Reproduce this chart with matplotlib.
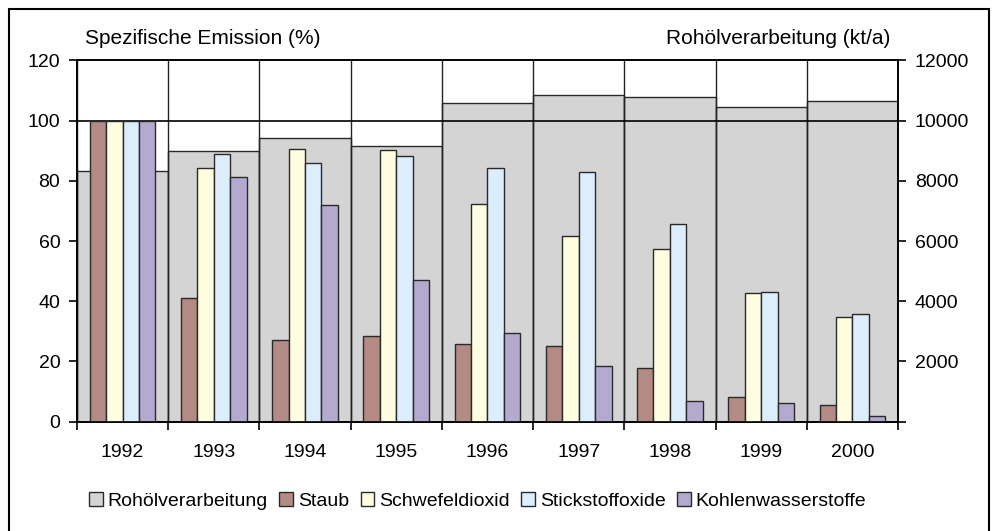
import numpy as np
import matplotlib.pyplot as plt
from matplotlib.patches import Rectangle

plt.rcParams['font.family'] = ['Liberation Sans', 'DejaVu Sans']

years = ['1992', '1993', '1994', '1995', '1996', '1997', '1998', '1999', '2000']
roh = [8340, 8980, 9420, 9160, 10580, 10860, 10790, 10450, 10640]
staub = [100, 41.1, 27.3, 28.6, 25.8, 25.0, 17.7, 8.1, 5.5]
so2 = [100, 84.3, 90.4, 90.3, 72.4, 61.7, 57.4, 42.7, 34.7]
nox = [100, 89.0, 86.0, 88.1, 84.1, 83.0, 65.7, 43.1, 35.8]
kw = [100, 81.4, 72.1, 46.9, 29.4, 18.6, 7.0, 6.2, 1.9]

names = ['Staub', 'Schwefeldioxid', 'Stickstoffoxide', 'Kohlenwasserstoffe']
colors = ['#B38A84', '#FFFDE0', '#DCEEFC', '#B4A9CE']
gray = '#D4D4D4'

fig = plt.figure(figsize=(9.93, 5.31), dpi=100)
ax = fig.add_axes([0.0775, 0.2058, 0.8268, 0.6806])
ax2 = ax.twinx()
ax.set_zorder(ax2.get_zorder() + 1)
ax.patch.set_visible(False)

x = np.arange(len(years))
ax2.bar(x, roh, width=1.0, color=gray, edgecolor='#2a2a2a', linewidth=1.0,
        label='Rohölverarbeitung')
ax2.set_ylim(0, 12000)
ax2.set_yticks(np.arange(0, 12001, 2000))
ax2.set_yticklabels(['', '2000', '4000', '6000', '8000', '10000', '12000'])

# grid: category boundaries and line at 100
for b in np.arange(-0.5, len(years), 1.0):
    ax.axvline(b, color='#222222', lw=1.0, zorder=1)
ax.axhline(100, color='black', lw=1.2, zorder=1)

w = 0.18
data = [staub, so2, nox, kw]
for i, (vals, c, n) in enumerate(zip(data, colors, names)):
    ax.bar(x + (i - 1.5) * w, vals, width=w, color=c, edgecolor='#2a2a2a',
           linewidth=1.0, label=n, zorder=2)

ax.set_xlim(-0.5, len(years) - 0.5)
ax.set_ylim(0, 120)
ax.set_yticks(np.arange(0, 121, 20))
ax.set_xticks(x)
ax.set_xticklabels(years)
ax.set_xticks(np.arange(-0.5, len(years), 1.0), minor=True)
ax.tick_params(axis='x', which='major', length=0, pad=16, labelsize=14)
ax.tick_params(axis='x', which='minor', length=6, width=1.2, direction='out')
ax.tick_params(axis='y', length=6, width=1.2, labelsize=14, pad=6)
ax2.tick_params(axis='y', length=6, width=1.2, labelsize=14, pad=6)
for a in (ax, ax2):
    for s in a.spines.values():
        s.set_linewidth(1.2)

fig.text(0.0856, 0.928, 'Spezifische Emission (%)', fontsize=15, va='center', ha='left')
fig.text(0.8963, 0.928, 'Rohölverarbeitung (kt/a)', fontsize=15, va='center', ha='right')

h1, l1 = ax2.get_legend_handles_labels()
h2, l2 = ax.get_legend_handles_labels()
fig.legend(h1 + h2, l1 + l2, loc='center', bbox_to_anchor=(0.481, 0.056), ncol=5,
           frameon=False, fontsize=14, handlelength=0.7, handleheight=0.7,
           handletextpad=0.25, columnspacing=0.6, borderaxespad=0)

fig.patches.append(Rectangle((9 / 993, -0.02), (989 - 9) / 993, 1 - 9 / 531 + 0.02,
                             transform=fig.transFigure, fill=False,
                             edgecolor='black', linewidth=1.5))

fig.savefig('out.png', dpi=100)
